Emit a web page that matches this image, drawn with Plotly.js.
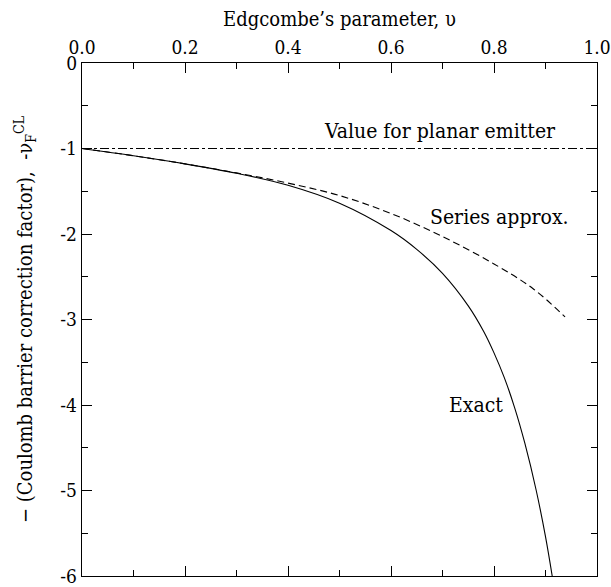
<!DOCTYPE html>
<html>
<head>
<meta charset="utf-8">
<script src="https://cdn.plot.ly/plotly-3.0.1.min.js"></script>
<style>html,body{margin:0;padding:0;background:#fff;}#chart{width:611px;height:587px;}</style>
</head>
<body>
<div id="chart"></div>
<script>
// Exact curve
const exactX = [0, 0.1, 0.2, 0.3, 0.4, 0.5, 0.6, 0.65, 0.7, 0.75, 0.78, 0.8, 0.82, 0.84, 0.86, 0.882, 0.9, 0.913];
const exactY = [-1, -1.085, -1.18, -1.29, -1.43, -1.64, -1.96, -2.18, -2.46, -2.84, -3.14, -3.39, -3.68, -4.03, -4.45, -5.0, -5.54, -6.0];
// Series approximation
const seriesX = [0, 0.1, 0.2, 0.3, 0.4, 0.5, 0.6, 0.7, 0.8, 0.876, 0.938];
const seriesY = [-1, -1.085, -1.18, -1.285, -1.405, -1.55, -1.76, -2.03, -2.35, -2.64, -2.97];
// Planar emitter value
const planarX = [0, 1];
const planarY = [-1, -1];

const xTicks = [0, 0.2, 0.4, 0.6, 0.8, 1.0];
const xTickText = ["0.0", "0.2", "0.4", "0.6", "0.8", "1.0"];
const yTicks = [0, -1, -2, -3, -4, -5, -6];
const yTickText = ["0", "-1", "-2", "-3", "-4", "-5", "-6"];

const labels = ["Value for planar emitter", "Series approx.", "Exact"];
const labelX = [0.695, 0.81, 0.765];
const labelY = [-0.8, -1.8, -4.0];

const font = "DejaVu Serif Condensed";
const lineStyle = {color: "#000", width: 1.1};

const traces = [
  {x: planarX, y: planarY, mode: "lines", line: Object.assign({dash: "dashdot"}, lineStyle), hoverinfo: "none"},
  {x: seriesX, y: seriesY, mode: "lines", line: Object.assign({dash: "7px,4px", shape: "spline", smoothing: 1}, lineStyle), hoverinfo: "none"},
  {x: exactX, y: exactY, mode: "lines", line: Object.assign({shape: "spline", smoothing: 1}, lineStyle), hoverinfo: "none"}
];

const axisCommon = {
  showgrid: false, zeroline: false, showline: true, linecolor: "#000", linewidth: 1.2,
  mirror: "ticks", ticks: "inside", ticklen: 10, tickcolor: "#000", tickwidth: 1,
  tickmode: "array", ticklabeloverflow: "allow",
  tickfont: {family: font, size: 19, color: "#000"},
};

const layout = {
  width: 611, height: 587,
  margin: {l: 82, r: 14, t: 63, b: 11},
  paper_bgcolor: "#fff", plot_bgcolor: "#fff",
  showlegend: false,
  font: {family: font, color: "#000"},
  xaxis: Object.assign({}, axisCommon, {
    side: "top", range: [0, 1], tickvals: xTicks, ticktext: xTickText,
    minor: {dtick: 0.1, tick0: 0, ticks: "inside", ticklen: 6, tickcolor: "#000"},
    title: {text: "Edgcombe’s parameter, υ", font: {family: font, size: 20, color: "#000"}, standoff: 4}
  }),
  yaxis: Object.assign({}, axisCommon, {
    range: [-6, 0], tickvals: yTicks, ticktext: yTickText,
    minor: {dtick: 0.5, tick0: 0, ticks: "inside", ticklen: 6, tickcolor: "#000"},
    title: {text: "− (Coulomb barrier correction factor),  -ν<sub>F</sub><sup>CL</sup>", font: {family: font, size: 20, color: "#000"}, standoff: 22}
  }),
  annotations: labels.map((t, i) => ({
    x: labelX[i], y: labelY[i], xref: "x", yref: "y", text: t, showarrow: false,
    font: {family: font, size: 21, color: "#000"}
  }))
};

Plotly.newPlot("chart", traces, layout, {displayModeBar: false, staticPlot: true});
</script>
</body>
</html>
